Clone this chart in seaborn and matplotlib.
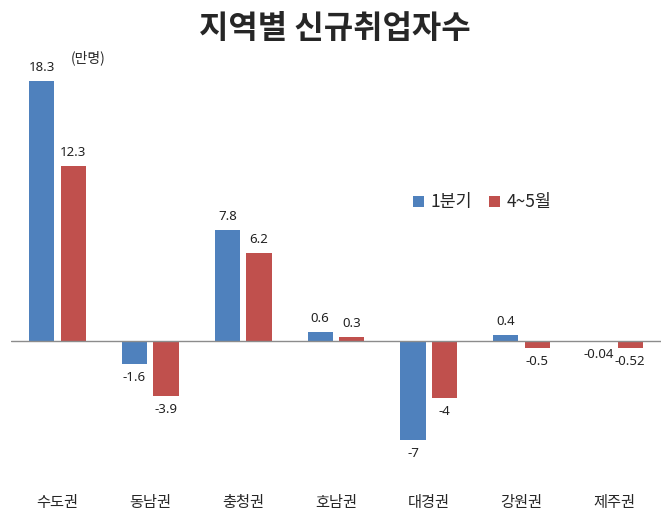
import pandas as pd
import matplotlib
matplotlib.use("Agg")
import matplotlib.pyplot as plt
import seaborn as sns

# Chart data
regions = ["수도권", "동남권", "충청권", "호남권", "대경권", "강원권", "제주권"]
series_names = ["1분기", "4~5월"]
q1_values = [18.3, -1.6, 7.8, 0.6, -7, 0.4, -0.04]
apr_may_values = [12.3, -3.9, 6.2, 0.3, -4, -0.5, -0.52]

colors = ["#4F81BD", "#C0504D"]

df = pd.DataFrame({
    "region": regions * 2,
    "series": [series_names[0]] * len(regions) + [series_names[1]] * len(regions),
    "value": q1_values + apr_may_values,
})

sns.set_theme(style="white")
plt.rcParams["font.family"] = ["Noto Sans CJK KR", "DejaVu Sans"]

fig = plt.figure(figsize=(6.7, 5.19), dpi=100)
ax = fig.add_axes([0.0164, 0.0944, 0.970, 0.771])

sns.barplot(
    data=df, x="region", y="value", hue="series",
    order=regions, hue_order=series_names, palette=colors,
    width=0.68, gap=0.2, saturation=1, linewidth=0, ax=ax,
)

# value labels above / below each bar
for container in ax.containers:
    vals = container.datavalues
    ax.bar_label(container, labels=[f"{v:g}" for v in vals],
                 padding=5, fontsize=9.5, color="#222222", family="Noto Sans")

ax.axhline(0, color="#8c8c8c", linewidth=1)
ax.set_xlim(-0.5, len(regions) - 0.5)
ax.set_ylim(-9.1, 19.1)
ax.set_xlabel("")
ax.set_ylabel("")
ax.set_yticks([])
ax.tick_params(axis="x", length=0, pad=17, labelsize=11)
for spine in ax.spines.values():
    spine.set_visible(False)

ax.legend(loc="center", bbox_to_anchor=(0.72, 0.61), bbox_transform=fig.transFigure,
          ncol=2, frameon=False, fontsize=12.5, handlelength=0.6, handleheight=0.6,
          handletextpad=0.4, columnspacing=1.0)

fig.text(0.5, 0.945, "지역별 신규취업자수", ha="center", va="center",
         fontsize=23, fontweight="bold")
fig.text(0.131, 0.889, "(만명)", ha="center", va="center", fontsize=10)

fig.savefig("out.png", dpi=100)
